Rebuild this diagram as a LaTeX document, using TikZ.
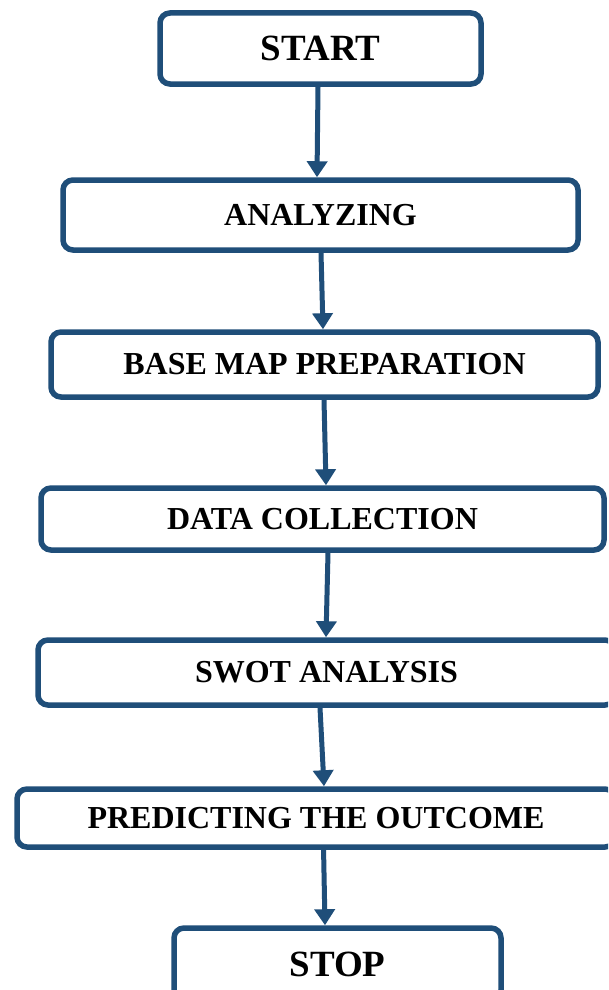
\documentclass[tikz,border=0pt]{standalone}
\usepackage{fontspec}
\setmainfont{Liberation Serif}
\usetikzlibrary{arrows.meta}
\definecolor{flowblue}{HTML}{1F4E79}
\tikzset{
  flowbox/.style={draw=flowblue, line width=5.5pt, rounded corners=10pt,
    fill=white, inner sep=0pt, align=center,
    font=\bfseries\fontsize{32}{32}\selectfont},
  bigbox/.style={flowbox, font=\bfseries\fontsize{37}{37}\selectfont},
  flowarrow/.style={draw=flowblue, line width=5pt,
    -{Triangle[width=20pt,length=16pt]}}
}
\begin{document}
\begin{tikzpicture}[x=1pt,y=-1pt]
  \useasboundingbox (0,0) rectangle (608,990);
  \clip (0,0) rectangle (608,990);
  \fill[white] (0,0) rectangle (608,990);

  % process steps, top to bottom
  \node[bigbox, minimum width=321pt, minimum height=71pt]
    (start) at (320.5,48.5) {START};
  \node[flowbox, minimum width=515pt, minimum height=70pt]
    (analyzing) at (320.5,215) {ANALYZING};
  \node[flowbox, minimum width=547pt, minimum height=65pt]
    (basemap) at (324.5,364.5) {BASE MAP PREPARATION};
  \node[flowbox, minimum width=563pt, minimum height=62pt]
    (data) at (322.5,519) {DATA COLLECTION};
  \node[flowbox, minimum width=577pt, minimum height=65pt]
    (swot) at (326.5,672.5) {SWOT ANALYSIS};
  \node[flowbox, minimum width=598pt, minimum height=58pt]
    (predict) at (316,818) {PREDICTING THE OUTCOME};
  \node[bigbox, minimum width=327pt, minimum height=72pt]
    (stop) at (337.5,964) {STOP};

  % connectors
  \draw[flowarrow] ([xshift=-2.5pt]start.south) -- ([xshift=-3.5pt]analyzing.north);
  \draw[flowarrow] ([xshift=0.5pt]analyzing.south) -- ([xshift=-1.5pt]basemap.north);
  \draw[flowarrow] ([xshift=-0.5pt]basemap.south) -- ([xshift=3.5pt]data.north);
  \draw[flowarrow] ([xshift=5.5pt]data.south) -- ([xshift=-0.5pt]swot.north);
  \draw[flowarrow] ([xshift=-6.5pt]swot.south) -- ([xshift=8pt]predict.north);
  \draw[flowarrow] ([xshift=7.5pt,yshift=3pt]predict.south) -- ([xshift=-12.5pt]stop.north);
\end{tikzpicture}
\end{document}
